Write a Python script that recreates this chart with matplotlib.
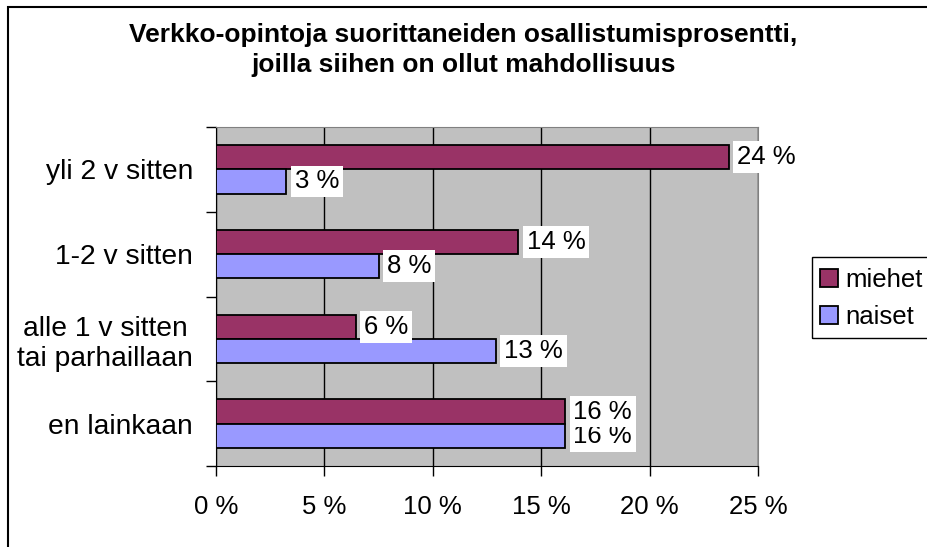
import matplotlib
matplotlib.use("Agg")
import matplotlib.pyplot as plt
from matplotlib.patches import Rectangle
import numpy as np

plt.rcParams['font.family'] = ['Liberation Sans', 'DejaVu Sans']

TITLE = "Verkko-opintoja suorittaneiden osallistumisprosentti,\njoilla siihen on ollut mahdollisuus"
CATEGORIES = ["en lainkaan", "alle 1 v sitten\ntai parhaillaan", "1-2 v sitten", "yli 2 v sitten"]
MIEHET = [16.1, 6.45, 13.95, 23.65]
NAISET = [16.1, 12.9, 7.5, 3.25]
LABELS_M = ["16 %", "6 %", "14 %", "24 %"]
LABELS_N = ["16 %", "13 %", "8 %", "3 %"]
XTICKS = [0, 5, 10, 15, 20, 25]

W, H = 927, 547
fig = plt.figure(figsize=(W / 100, H / 100), dpi=100)
ax = fig.add_axes([216 / W, 1 - 466 / H, (758 - 216) / W, (466 - 127) / H])

# outer chart frame (right and bottom edges fall outside the picture)
frame = Rectangle((8 / W, -10 / H), (W + 10) / W, (H + 10 - 6.5) / H,
                  transform=fig.transFigure, fill=False,
                  edgecolor="black", linewidth=1.5, zorder=0)
fig.patches.append(frame)

ax.set_facecolor("#C0C0C0")
y = np.arange(len(CATEGORIES))
h = 0.285
bm = ax.barh(y + h / 2, MIEHET, height=h, color="#993366", edgecolor="black", linewidth=1.3, zorder=3, label="miehet")
bn = ax.barh(y - h / 2, NAISET, height=h, color="#9999FF", edgecolor="black", linewidth=1.3, zorder=3, label="naiset")

ax.set_xlim(0, 25)
ax.set_ylim(-0.5, len(CATEGORIES) - 0.5)
ax.set_xticks(XTICKS)
ax.set_xticklabels([f"{t} %" for t in XTICKS], fontsize=18.5)
ax.set_yticks(y)
ax.set_yticklabels(CATEGORIES, fontsize=20.3, multialignment="center")
ax.tick_params(axis="y", length=0, pad=16.5)
ax.set_yticks(np.arange(-0.5, len(CATEGORIES), 1), minor=True)
ax.tick_params(axis="y", which="minor", length=7, width=1, direction="out")
ax.tick_params(axis="x", length=7, width=1, direction="out", pad=14)
ax.grid(axis="x", color="black", linewidth=1, zorder=1)
ax.set_axisbelow(True)
for side in ["top", "right"]:
    ax.spines[side].set_color("#808080")
for side in ["left", "bottom"]:
    ax.spines[side].set_color("black")

box = dict(boxstyle="square,pad=0.15", facecolor="white", edgecolor="none")
for yi, v, lab in zip(y, NAISET, LABELS_N):
    ax.annotate(lab, (v, yi - h / 2), xytext=(6, 0), textcoords="offset points",
                va="center", ha="left", fontsize=18.5, bbox=box, zorder=5,
                annotation_clip=False)
for yi, v, lab in zip(y, MIEHET, LABELS_M):
    ax.annotate(lab, (v, yi + h / 2), xytext=(6, 0), textcoords="offset points",
                va="center", ha="left", fontsize=18.5, bbox=box, zorder=6,
                annotation_clip=False)

leg = fig.legend(handles=[bm, bn], loc="upper left", bbox_to_anchor=(812 / W, 1 - 260 / H),
                 fontsize=18.5, frameon=False,
                 handlelength=0.7, handleheight=0.7, handletextpad=0.3,
                 borderpad=0.3, labelspacing=0.5, borderaxespad=0)
# legend box runs off the right edge like in the original
fig.patches.append(Rectangle((812 / W, 1 - 338 / H), 130 / W, (338 - 257) / H,
                             transform=fig.transFigure, fill=False,
                             edgecolor="black", linewidth=1, zorder=0))

fig.text(0.5, 1 - 50 / H, TITLE, ha="center", va="center", fontsize=19,
         fontweight="bold", linespacing=1.35)

fig.savefig("out.png", dpi=100)
